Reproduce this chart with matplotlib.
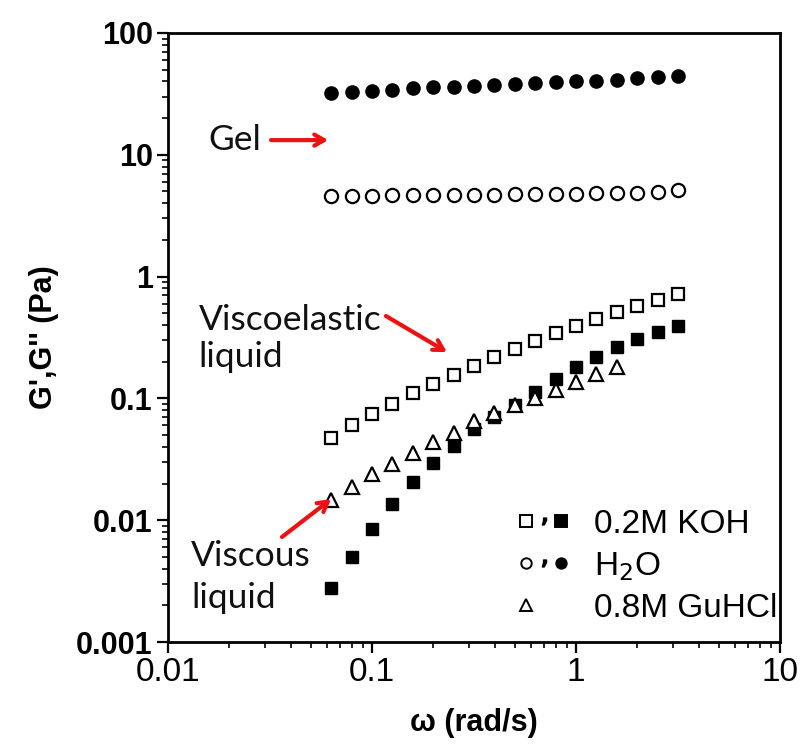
import matplotlib
matplotlib.use("Agg")
import matplotlib.pyplot as plt
from matplotlib.lines import Line2D
from matplotlib.legend_handler import HandlerTuple

# ---- data ----
omega = [0.0631, 0.0794, 0.100, 0.126, 0.158, 0.200, 0.251, 0.316, 0.398,
         0.501, 0.631, 0.794, 1.00, 1.26, 1.58, 2.00, 2.51, 3.16]
koh_g1 = [0.0474, 0.0608, 0.0746, 0.0899, 0.110, 0.132, 0.157, 0.183, 0.218,
          0.254, 0.297, 0.347, 0.394, 0.446, 0.514, 0.578, 0.647, 0.719]
koh_g2 = [0.0028, 0.0050, 0.0084, 0.0135, 0.0205, 0.0294, 0.041, 0.056, 0.071,
          0.088, 0.113, 0.145, 0.181, 0.220, 0.262, 0.310, 0.351, 0.394]
h2o_g1 = [4.60, 4.60, 4.62, 4.64, 4.65, 4.67, 4.69, 4.70, 4.72,
          4.74, 4.75, 4.78, 4.80, 4.82, 4.85, 4.88, 4.95, 5.15]
h2o_g2 = [32.2, 33.0, 33.7, 34.3, 35.2, 35.8, 36.3, 37.0, 37.7,
          38.1, 38.6, 39.3, 40.1, 40.6, 41.3, 42.4, 43.2, 44.0]
guhcl_omega = omega[:15]
guhcl_g = [0.0147, 0.0189, 0.0239, 0.0288, 0.0355, 0.0435, 0.052, 0.0647,
           0.0756, 0.088, 0.100, 0.117, 0.136, 0.160, 0.181]

xticks = [0.01, 0.1, 1, 10]
xticklabels = ["0.01", "0.1", "1", "10"]
yticks = [0.001, 0.01, 0.1, 1, 10, 100]
yticklabels = ["0.001", "0.01", "0.1", "1", "10", "100"]
legend_labels = ["0.2M KOH", "H$_2$O", "0.8M GuHCl"]

# ---- figure ----
fig = plt.figure(figsize=(8.03, 7.52), dpi=100)
ax = fig.add_axes([168/803, 110/752, 612/803, 609/752])
ax.set_xscale("log")
ax.set_yscale("log")
ax.set_xlim(0.01, 10)
ax.set_ylim(0.001, 100)

mew = 1.6
ax.plot(omega, h2o_g2, ls="none", marker="o", ms=9.5, mfc="black", mec="black")
ax.plot(omega, h2o_g1, ls="none", marker="o", ms=9.5, mfc="white", mec="black", mew=mew)
ax.plot(omega, koh_g1, ls="none", marker="s", ms=9, mfc="white", mec="black", mew=mew)
ax.plot(omega, koh_g2, ls="none", marker="s", ms=9, mfc="black", mec="black")
ax.plot(guhcl_omega, guhcl_g, ls="none", marker="^", ms=9.5, mfc="white", mec="black", mew=mew)

# ---- axes styling ----
for s in ax.spines.values():
    s.set_linewidth(2)
ax.set_xticks(xticks)
ax.set_xticklabels(xticklabels, fontsize=24, family="Liberation Sans")
ax.set_yticks(yticks)
ax.set_yticklabels(yticklabels, fontsize=22, family="Liberation Sans", fontweight="bold")
ax.tick_params(which="major", direction="out", length=8, width=1.6, pad=3)
ax.tick_params(which="minor", direction="out", length=4, width=1.2)
ax.set_xlabel("ω (rad/s)", fontsize=22, family="Liberation Sans", fontweight="bold", labelpad=14)
ax.set_ylabel("G',G'' (Pa)", fontsize=22, family="Liberation Sans", fontweight="bold", labelpad=12)

# ---- annotations ----
tfont = dict(family="Lato", fontsize=25.5, color="#111111")
ax.text(0.0157, 10.9, "Gel", va="baseline", ha="left", **tfont)
ax.text(0.0141, 0.365, "Viscoelastic", va="baseline", ha="left", **tfont)
ax.text(0.0141, 0.181, "liquid", va="baseline", ha="left", **tfont)
ax.text(0.0130, 0.0042, "Viscous", va="baseline", ha="left", **tfont)
ax.text(0.0130, 0.0019, "liquid", va="baseline", ha="left", **tfont)

aprops = dict(arrowstyle="->,head_length=0.7,head_width=0.4", color="#ee1111", lw=3,
              shrinkA=0, shrinkB=0)
ax.annotate("", xy=(0.061, 13.2), xytext=(0.032, 13.2), arrowprops=aprops)
ax.annotate("", xy=(0.233, 0.240), xytext=(0.117, 0.475), arrowprops=aprops)
ax.annotate("", xy=(0.063, 0.0149), xytext=(0.0362, 0.00728), arrowprops=aprops)

# ---- legend ----
def mk(marker, fill, ms=8.5):
    return Line2D([], [], ls="none", marker=marker, ms=ms, mfc=fill, mec="black", mew=1.4)
comma = Line2D([], [], ls="none", marker="$,$", ms=5, color="black")
blank = Line2D([], [], ls="none", marker="None")
handles = [(mk("s", "white"), comma, mk("s", "black")),
           (mk("o", "white", 7.5), comma, mk("o", "black", 7.5)),
           (mk("^", "white"), blank, blank)]
leg = ax.legend(handles, legend_labels, handler_map={tuple: HandlerTuple(ndivide=None, pad=0.0)},
                loc="lower left", bbox_to_anchor=(0.57, 0.03), frameon=False,
                prop=dict(family="Liberation Sans", size=24), handlelength=1.6,
                handletextpad=0.7, labelspacing=0.3, borderpad=0, borderaxespad=0)

fig.savefig("out.png", dpi=100)
